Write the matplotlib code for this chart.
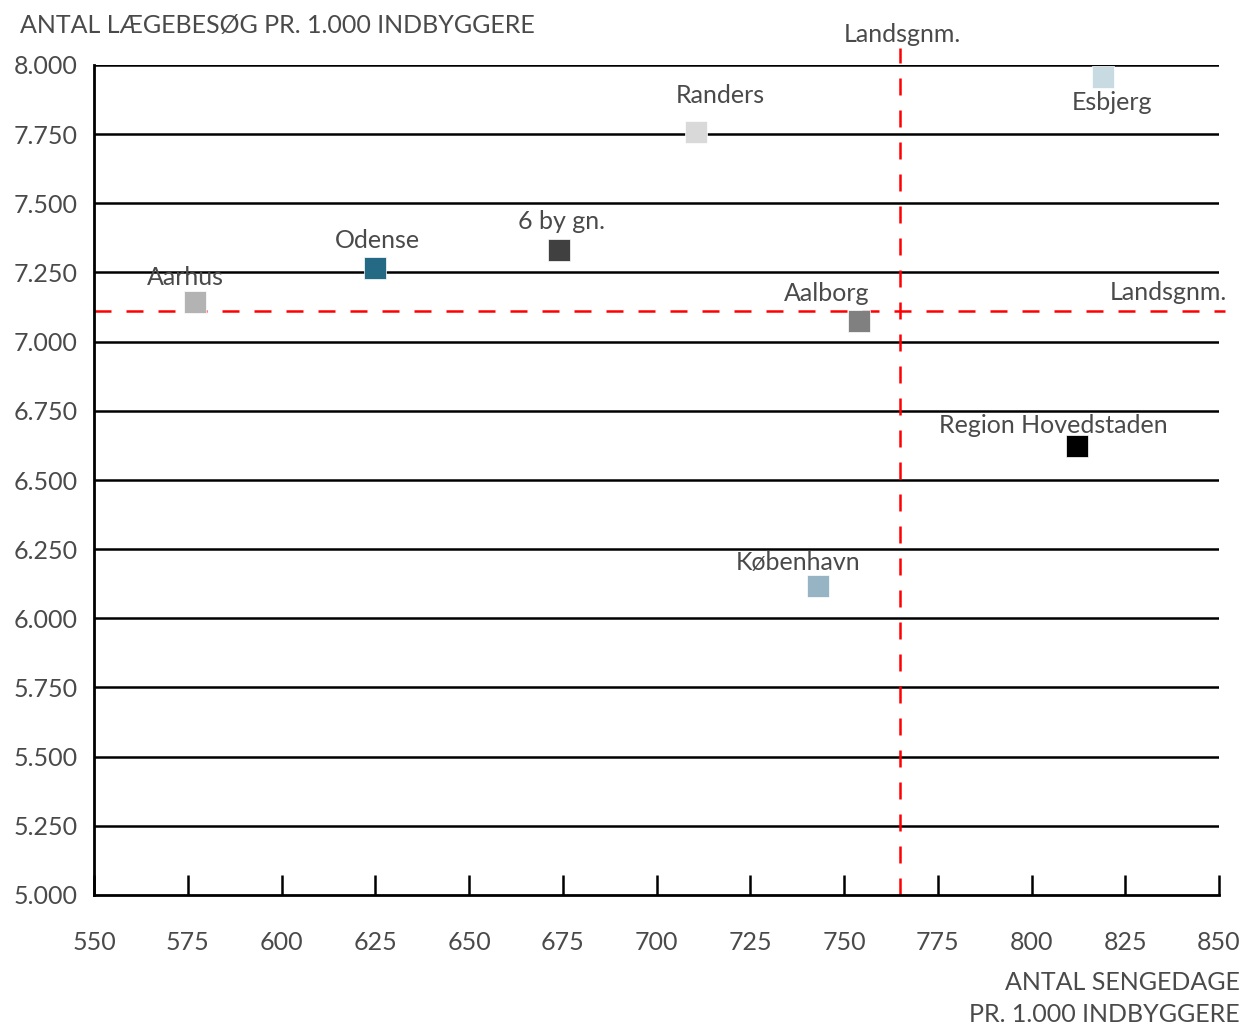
import matplotlib
matplotlib.use("Agg")
import matplotlib.pyplot as plt
from matplotlib.ticker import FuncFormatter

plt.rcParams['font.family'] = ['Lato', 'DejaVu Sans']
plt.rcParams['font.weight'] = 'normal'

# ---- data ----
cities = ["Aarhus", "Odense", "6 by gn.", "Randers", "Aalborg",
          "København", "Region Hovedstaden", "Esbjerg"]
sengedage = [577, 625, 674, 710.5, 754, 743, 812, 819]
laegebesoeg = [7143, 7266, 7331, 7758, 7075, 6117, 6623, 7957]
colors = ["#b3b3b3", "#246a85", "#404040", "#d9d9d9", "#808080",
          "#96b4c4", "#000000", "#c8dbe3"]
lands_x = 765
lands_y = 7111
x_ticks = [550, 575, 600, 625, 650, 675, 700, 725, 750, 775, 800, 825, 850]
y_ticks = [5000, 5250, 5500, 5750, 6000, 6250, 6500, 6750, 7000, 7250, 7500, 7750, 8000]

# label offsets in pixels (layout)
label_offsets = [(-10, 25), (2, 28), (2, 29), (24, 36), (-32, 27),
                 (-20, 23), (-23, 20), (9, -26)]

W, H = 1242, 1025
FS = 18
fig = plt.figure(figsize=(W / 100, H / 100), dpi=100)
ax = fig.add_axes([94 / W, 1 - 895 / H, 1125 / W, 830 / H])

txt = "#4a4a4a"
ax.set_xlim(550, 850)
ax.set_ylim(5000, 8000)

# gridlines
for yv in y_ticks[1:]:
    ax.axhline(yv, color="black", lw=1.8, zorder=1)

for s in ["top", "right"]:
    ax.spines[s].set_visible(False)
for s in ["left", "bottom"]:
    ax.spines[s].set_linewidth(2.0)
    ax.spines[s].set_color("black")

ax.set_xticks(x_ticks)
ax.set_yticks(y_ticks)
ax.yaxis.set_major_formatter(FuncFormatter(lambda v, p: f"{int(v):,}".replace(",", ".")))
ax.tick_params(axis="x", direction="in", length=14.5, width=1.8, color="black",
               pad=26, labelsize=FS, labelcolor=txt)
ax.tick_params(axis="y", length=0, pad=12, labelsize=FS, labelcolor=txt)

# reference lines
dash = (0, (6.8, 6.0))
ax.axhline(lands_y, xmin=0, xmax=1.005, color="#ff0000", lw=1.8, ls=dash,
           clip_on=False, zorder=2)
ax.axvline(lands_x, ymin=0, ymax=1.02, color="#ff0000", lw=1.8, ls=dash,
           clip_on=False, zorder=2)

# markers and labels
for c, xv, yv, col, (dx, dy) in zip(cities, sengedage, laegebesoeg, colors, label_offsets):
    ax.plot(xv, yv, marker="s", ms=15.5, color=col, mec="white", mew=0.5,
            ls="none", zorder=5, clip_on=False)
    ax.annotate(c, (xv, yv), xytext=(dx, dy), textcoords="offset pixels",
                ha="center", va="center", fontsize=FS, color=txt, zorder=6)

fig.text(902 / W, 1 - 35 / H, "Landsgnm.", ha="center", va="center",
         fontsize=FS, color=txt)
fig.text(1227 / W, 1 - 292 / H, "Landsgnm.", ha="right", va="center",
         fontsize=FS, color=txt)

fig.text(20 / W, 1 - 26 / H, "ANTAL LÆGEBESØG PR. 1.000 INDBYGGERE",
         ha="left", va="center", fontsize=FS, color=txt)
fig.text(1240 / W, 1 - 983 / H, "ANTAL SENGEDAGE", ha="right", va="center",
         fontsize=FS, color=txt)
fig.text(1240 / W, 1 - 1014 / H, "PR. 1.000 INDBYGGERE", ha="right", va="center",
         fontsize=FS, color=txt)

fig.savefig("out.png", dpi=100, facecolor="white")
